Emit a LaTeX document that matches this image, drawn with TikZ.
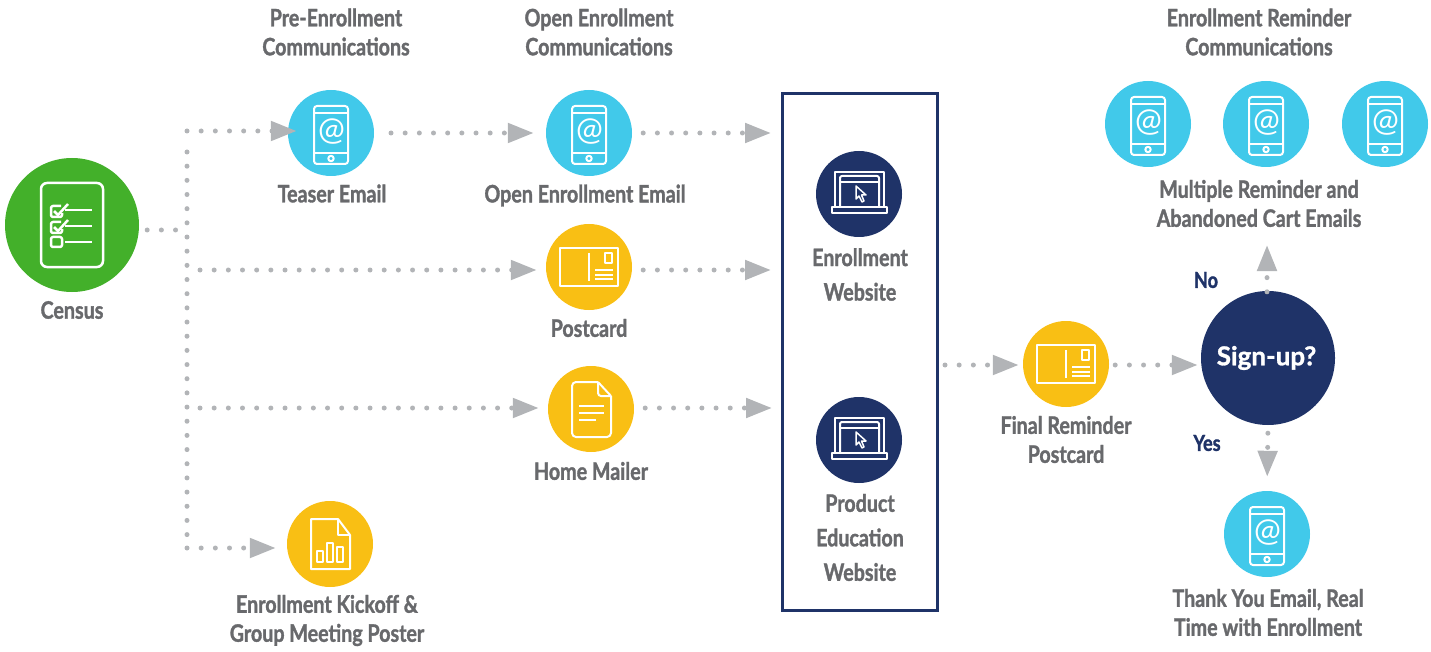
\documentclass[tikz,border=0pt]{standalone}
\usepackage{fontspec}
\setmainfont[FakeStretch=0.82, BoldFeatures={FakeBold=1.4}]{Lato}
\newfontfamily\widefont[BoldFeatures={FakeBold=1.2}]{Lato}
\usetikzlibrary{arrows.meta, positioning}
\definecolor{skyfill}{HTML}{41C9EA}
\definecolor{sunfill}{HTML}{F9BF14}
\definecolor{leaffill}{HTML}{43B02A}
\definecolor{navyfill}{HTML}{1F3368}
\definecolor{labelgray}{HTML}{68696C}
\definecolor{flowgray}{HTML}{B2B4B7}
\tikzset{
    x=1pt, y=-1pt, % one unit is one pixel of the page, y runs downwards
    bubble/.style={circle, minimum size=86pt, inner sep=0pt},
    sky/.style={bubble, fill=skyfill},
    sun/.style={bubble, fill=sunfill},
    navy/.style={bubble, fill=navyfill},
    caption/.style={align=center, text=labelgray, inner sep=0pt,
        font=\fontsize{24}{29}\selectfont\bfseries},
    tallcaption/.style={caption, font=\fontsize{24}{34.5}\selectfont\bfseries},
    answer/.style={text=navyfill, inner sep=0pt, font=\fontsize{22}{26}\selectfont\bfseries},
    flow/.style={draw=flowgray, line width=5pt, line cap=round,
        dash pattern=on 0pt off 14.17pt,
        -{Triangle[length=26pt, width=19pt, fill=flowgray]}},
    trunk/.style={draw=flowgray, line width=5pt, line cap=round,
        dash pattern=on 0pt off 14.17pt},
    icon/.style={draw=white, line width=2pt, line join=round},
    phoneicon/.pic={
        \draw[icon, rounded corners=3pt] (-17,-27) rectangle (17,31);
        \draw[icon] (-17,-20) -- (17,-20) (-17,20) -- (17,20);
        \draw[icon] (0,25.5) circle (2.7pt);
        \node[text=white, inner sep=0pt, font=\widefont\fontsize{32}{32}\selectfont] (-at) at (0.5,-1) {@};
    },
    cardicon/.pic={
        \draw[icon] (-29,-19) rectangle (29,19);
        \draw[icon] (0,-14) -- (0,14);
        \draw[icon] (16,-14) rectangle (23,-4);
        \draw[icon] (6,3) -- (24,3) (6,7.5) -- (24,7.5) (6,12) -- (24,12);
    },
    docicon/.pic={
        \draw[icon, rounded corners=4pt] (7,-27) -- (-19,-27) -- (-19,28) -- (20,28) -- (20,-13);
        \draw[icon] (7,-27) -- (20,-13);
        \draw[icon, rounded corners=3pt] (7,-27) -- (7,-13) -- (20,-13);
        \draw[icon] (-12,-3) -- (13,-3) (-12,4) -- (13,4) (-12,11) -- (5,11);
    },
    charticon/.pic={
        \draw[icon] (8,-25) -- (-19,-25) -- (-19,25) -- (20,25) -- (20,-9) -- cycle;
        \draw[icon] (8,-25) -- (8,-9) -- (20,-9);
        \draw[icon] (-13,7) rectangle (-7,18);
        \draw[icon] (-3,-1) rectangle (3,18);
        \draw[icon] (7,3) rectangle (13,18);
    },
    laptopicon/.pic={
        \draw[icon] (-24,13) -- (-24,-22) -- (25,-22) -- (25,13);
        \draw[icon, rounded corners=2pt] (-19,13) -- (-19,-18) -- (20,-18) -- (20,13);
        \draw[icon] (-19,-12) -- (20,-12);
        \draw[icon] (-27,13) rectangle (28,19);
        \draw[icon, line width=1.5pt] (-3,-8) -- (-3,5) -- (0,2) -- (3,8) -- (5,7) -- (2.5,1) -- (7,1) -- cycle;
    },
    listicon/.pic={
        \draw[icon, line width=2.5pt, rounded corners=6pt] (-31,-42) rectangle (31,42);
        \draw[icon, line width=2.5pt] (-7,-15) -- (20,-15) (-7,1) -- (20,1) (-7,17) -- (20,17);
        \draw[icon, line width=2.5pt, rounded corners=2pt] (-11,-19) -- (-21,-19) -- (-21,-8) -- (-10,-8) -- (-10,-12);
        \draw[icon, line width=2.5pt, rounded corners=2pt] (-11,-3) -- (-21,-3) -- (-21,8) -- (-10,8) -- (-10,4);
        \draw[icon, line width=2.5pt, rounded corners=2pt] (-21,12) rectangle (-10,22);
        \draw[icon, line width=2.5pt] (-18,-14) -- (-14,-10) -- (-4,-21);
        \draw[icon, line width=2.5pt] (-18,2) -- (-14,6) -- (-4,-5);
    },
}
\begin{document}
\begin{tikzpicture}
    \useasboundingbox (0,0) rectangle (1431,652);
    % column frame goes first
    \node[draw=navyfill, line width=3pt, minimum width=155pt, minimum height=517pt, inner sep=0pt] (sitebox) at (860,352) {};
    % bubbles
    \node[bubble, minimum size=134pt, fill=leaffill] (census) at (72,225) {};
    \node[sky] (teaser) at (331,133) {};
    \node[sky] (openmail) at (589,133) {};
    \node[sun] (postcard) at (589,267) {};
    \node[sun] (mailer) at (591,409) {};
    \node[sun] (poster) at (330,544) {};
    \node[navy] (enrollsite) at (859,194) {};
    \node[navy] (edusite) at (859,440) {};
    \node[sun] (finalcard) at (1066,364) {};
    \node[navy, minimum size=134pt, text=white, font=\widefont\fontsize{26}{30}\selectfont\bfseries] (signup) at (1268,358) {\hspace{-3pt}Sign-up?};
    \node[sky] (reminda) at (1148,124) {};
    \node[sky] (remindb) at (1266,124) {};
    \node[sky] (remindc) at (1385,124) {};
    \node[sky] (thanks) at (1267,534) {};
    % icons
    \pic at (census) {listicon};
    \pic at (teaser) {phoneicon};
    \pic at (openmail) {phoneicon};
    \pic at (postcard) {cardicon};
    \pic at (mailer) {docicon};
    \pic at (poster) {charticon};
    \pic at (enrollsite) {laptopicon};
    \pic at (edusite) {laptopicon};
    \pic at (finalcard) {cardicon};
    \pic at (reminda) {phoneicon};
    \pic at (remindb) {phoneicon};
    \pic at (remindc) {phoneicon};
    \pic at (thanks) {phoneicon};
    % captions
    \node[caption] (precap) at (336,32) {Pre-Enrollment\\Communications};
    \node[caption] (opencap) at (599,32) {Open Enrollment\\Communications};
    \node[caption] (remindcap) at (1259,32) {Enrollment Reminder\\Communications};
    \node[caption] (censuscap) at (72,310) {Census};
    \node[caption] (teasercap) at (332,193.5) {Teaser Email};
    \node[caption] (openmailcap) at (585,195.5) {Open Enrollment Email};
    \node[caption] (postcardcap) at (589,328) {Postcard};
    \node[caption] (mailercap) at (591,471) {Home Mailer};
    \node[caption] (postercap) at (327,620.5) {Enrollment Kickoff \&\\Group Meeting Poster};
    \node[tallcaption] (enrollcap) at (860,274.5) {Enrollment\\Website};
    \node[tallcaption] (educap) at (860,537.5) {Product\\Education\\Website};
    \node[caption] (finalcap) at (1066,439.5) {Final Reminder\\Postcard};
    \node[caption] (multicap) at (1259,203.5) {Multiple Reminder and\\Abandoned Cart Emails};
    \node[caption] (thankscap) at (1268,612.5) {Thank You Email, Real\\Time with Enrollment};
    \node[answer] (nolabel) at (1206,280) {No};
    \node[answer] (yeslabel) at (1207,443) {Yes};
    % joints of the dotted lines
    \coordinate (stubend) at (187,230);
    \coordinate (topjoint) at (187,131);
    \coordinate (cardjoint) at (187,270);
    \coordinate (mailjoint) at (187,408);
    \coordinate (lowjoint) at (187,548);
    % connectors
    \draw[trunk, shorten <=8pt, shorten >=8pt] ([yshift=-5pt]census.east) -- (stubend);
    \draw[trunk, shorten <=21pt] (topjoint) -- (lowjoint);
    \draw[flow, shorten >=-9pt] (topjoint) -- ([yshift=2pt]teaser.west);
    \draw[flow, shorten <=13pt, shorten >=9pt] (cardjoint) -- ([yshift=-3pt]postcard.west);
    \draw[flow, shorten <=13pt, shorten >=9pt] (mailjoint) -- ([yshift=1pt]mailer.west);
    \draw[flow] (lowjoint) -- ([xshift=-11pt, yshift=-4pt]poster.west);
    \draw[flow, shorten <=17pt, shorten >=12pt] (teaser) ++(43,0) -- (openmail.west);
    \draw[flow, shorten <=11pt, shorten >=10pt] (openmail.east) -- (openmail.east -| sitebox.west);
    \draw[flow, shorten <=11pt, shorten >=10pt] ([yshift=-3pt]postcard.east) -- ([yshift=-3pt]postcard.east -| sitebox.west);
    \draw[flow, shorten <=11pt, shorten >=9pt] ([yshift=1pt]mailer.east) -- ([yshift=1pt]mailer.east -| sitebox.west);
    \draw[flow, shorten <=6pt, shorten >=4pt] ([yshift=-1pt]sitebox.east |- finalcard) -- ([yshift=-1pt]finalcard.west);
    \draw[flow, shorten <=6pt, shorten >=3pt] ([yshift=-1pt]finalcard.east) -- ([yshift=-1pt]finalcard.east -| signup.west);
    \draw[flow, shorten <=-1pt] ([xshift=-1pt]signup.north) -- (1267,245);
    \draw[flow, shorten <=8pt, shorten >=14pt] (signup.south) -- (thanks.north);
\end{tikzpicture}
\end{document}
